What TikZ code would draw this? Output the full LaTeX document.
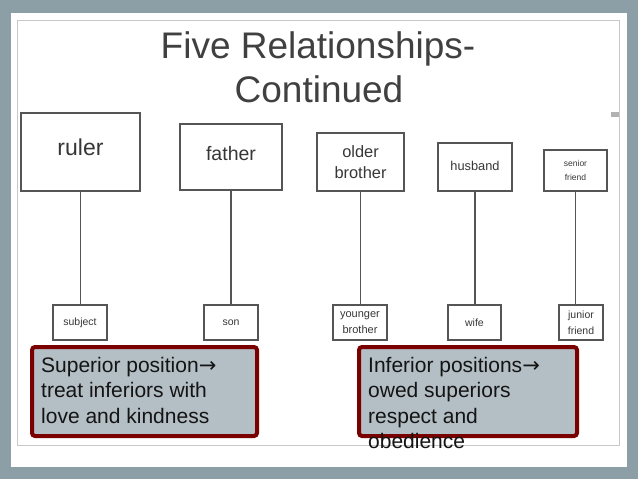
\documentclass[tikz,border=0pt]{standalone}
\usepackage{fontspec}
\setmainfont{Liberation Sans}
\newfontfamily\arrowfont{DejaVu Sans}
\definecolor{bg}{RGB}{140,158,166}
\definecolor{frameline}{RGB}{200,200,200}
\definecolor{titlegray}{RGB}{64,64,64}
\definecolor{boxline}{RGB}{85,85,85}
\definecolor{boxtext}{RGB}{55,55,55}
\definecolor{darkred}{RGB}{122,0,0}
\definecolor{notefill}{RGB}{180,190,197}
\newcommand{\rarr}{{\arrowfont\char"2192}}
\tikzset{
  upbox/.style={draw=boxline, line width=1.5pt, fill=white, inner sep=0pt, align=center, text=boxtext},
  lowbox/.style={draw=boxline, line width=1.1pt, fill=white, inner sep=0pt, align=center, text=boxtext,
    minimum height=35pt, font=\fontsize{10.5}{15}\selectfont},
  link/.style={draw=boxline, line width=1.2pt},
  notebox/.style={draw=darkred, line width=4pt, fill=notefill, rounded corners=3pt, inner sep=0pt},
  notetext/.style={anchor=north west, align=left, inner sep=0pt, text=black!92, font=\fontsize{21}{25.5}\selectfont}
}
\begin{document}
\begin{tikzpicture}[x=1pt,y=-1pt]
\fill[bg] (0,0) rectangle (638,479);
\useasboundingbox (0,0) rectangle (638,479);
\fill[white] (11,13) rectangle (627,467);
\draw[frameline, line width=0.8pt] (17,20) rectangle (619,445);
\fill[gray!60] (611,112) rectangle (619,117);

\node[anchor=base, text=titlegray, font=\fontsize{37}{44}\selectfont, inner sep=0pt] (title1) at (318,58) {Five Relationships-};
\node[anchor=base, text=titlegray, font=\fontsize{37}{44}\selectfont, inner sep=0pt] (title2) at (319,102) {Continued};

\node[upbox, minimum width=119pt, minimum height=78pt, text depth=10pt, font=\fontsize{23}{26}\selectfont] (ruler) at (80.5,152) {ruler};
\node[upbox, minimum width=102pt, minimum height=66pt, text depth=8pt, font=\fontsize{19.5}{22}\selectfont] (father) at (231,157) {father};
\node[upbox, minimum width=87pt, minimum height=58pt, font=\fontsize{16.4}{20.5}\selectfont] (older) at (360.5,162) {older\\brother};
\node[upbox, minimum width=74pt, minimum height=48pt, text depth=2pt, font=\fontsize{12.8}{15}\selectfont] (husband) at (475,167) {husband};
\node[upbox, minimum width=63pt, minimum height=41pt, font=\fontsize{8.5}{14.5}\selectfont] (senior) at (575.5,170.5) {senior\\friend};

\node[lowbox, minimum width=54pt] (subject) at (80,322.5) {subject};
\node[lowbox, minimum width=54pt] (son) at (231,322.5) {son};
\node[lowbox, minimum width=54pt, font=\fontsize{11}{16}\selectfont] (younger) at (360,322.5) {younger\\brother};
\node[lowbox, minimum width=53pt] (wife) at (474.5,322.5) {wife};
\node[lowbox, minimum width=44pt, font=\fontsize{10.5}{16}\selectfont] (junior) at (581,322.5) {junior\\friend};

\draw[link] (ruler.south) -- (ruler.south |- subject.north);
\draw[link] (father.south) -- (father.south |- son.north);
\draw[link] (older.south) -- (older.south |- younger.north);
\draw[link] (husband.south) -- (husband.south |- wife.north);
\draw[link] (senior.south) -- (senior.south |- junior.north);

\node[notebox, minimum width=225pt, minimum height=89pt] (leftnote) at (144.5,391.5) {};
\node[notebox, minimum width=218pt, minimum height=89pt] (rightnote) at (468,391.5) {};
\node[notetext] (lefttext) at (41,357) {Superior position\rarr\\treat inferiors with\\love and kindness};
\node[notetext] (righttext) at (368,357) {Inferior positions\rarr\\owed superiors\\respect and\\obedience};
\end{tikzpicture}
\end{document}
